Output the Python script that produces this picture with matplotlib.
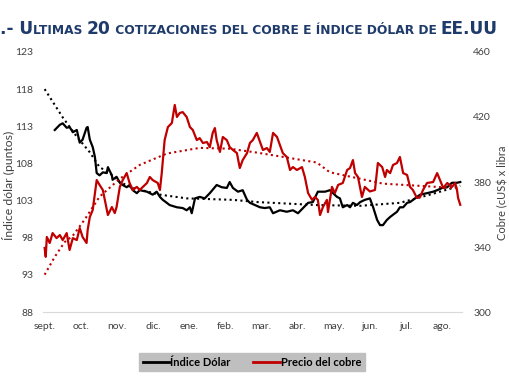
import matplotlib
matplotlib.use("Agg")
import matplotlib.pyplot as plt
from matplotlib.lines import Line2D

# month position: 0 = sept., 1 = oct., ... 11 = ago.
months = ["sept.", "oct.", "nov.", "dic.", "ene.", "feb.", "mar.", "abr.",
          "may.", "jun.", "jul.", "ago."]

dolar_x = [0.28, 0.42, 0.50, 0.61, 0.69, 0.78, 0.89, 0.97, 1.05, 1.16, 1.19, 1.25,
           1.33, 1.39, 1.44, 1.52, 1.61, 1.72, 1.75, 1.86, 1.88, 1.99, 2.08, 2.16,
           2.27, 2.35, 2.44, 2.55, 2.63, 2.83, 2.99, 3.10, 3.19, 3.27, 3.38, 3.46,
           3.66, 3.82, 3.93, 4.02, 4.07, 4.16, 4.29, 4.43, 4.57, 4.76, 4.90, 5.04,
           5.12, 5.21, 5.35, 5.48, 5.60, 5.68, 5.82, 5.96, 6.09, 6.23, 6.32, 6.51,
           6.70, 6.87, 7.01, 7.15, 7.29, 7.42, 7.56, 7.76, 7.89, 7.98, 8.09, 8.17,
           8.25, 8.37, 8.45, 8.53, 8.64, 8.73, 8.86, 9.00, 9.09, 9.20, 9.28, 9.36,
           9.47, 9.56, 9.64, 9.75, 9.83, 9.92, 10.03, 10.11, 10.25, 10.39, 10.58,
           10.75, 10.86, 11.00, 11.14, 11.27, 11.41, 11.50]
dolar = [112.5, 113.2, 113.4, 112.8, 112.9, 112.2, 112.5, 110.8, 111.2, 112.8, 112.9, 111.2,
         110.2, 108.9, 106.7, 106.4, 106.8, 106.7, 107.5, 106.4, 105.8, 106.2, 105.4, 105.1,
         104.8, 105.1, 104.4, 104.0, 104.4, 104.2, 103.8, 104.2, 103.5, 103.1, 102.7, 102.4,
         102.1, 102.0, 101.7, 102.1, 101.3, 103.3, 103.5, 103.3, 104.0, 105.1, 104.8, 104.7,
         105.5, 104.7, 104.2, 104.4, 103.1, 102.7, 102.4, 102.1, 102.0, 102.1, 101.3, 101.7,
         101.5, 101.7, 101.3, 102.0, 102.7, 102.8, 104.2, 104.2, 104.4, 104.0, 103.5, 103.3,
         102.1, 102.4, 102.1, 102.7, 102.4, 102.8, 103.1, 103.3, 102.1, 100.4, 99.7, 99.7,
         100.4, 100.8, 101.1, 101.5, 102.1, 102.1, 102.7, 102.8, 103.3, 103.8, 104.0,
         104.2, 104.4, 104.7, 104.8, 105.4, 105.4, 105.5]

cobre_x = [0.00, 0.03, 0.06, 0.14, 0.22, 0.33, 0.42, 0.50, 0.61, 0.69, 0.78, 0.89,
           0.97, 1.05, 1.16, 1.19, 1.25, 1.33, 1.44, 1.52, 1.61, 1.72, 1.75, 1.86,
           1.94, 1.99, 2.08, 2.16, 2.27, 2.35, 2.44, 2.55, 2.63, 2.83, 2.91, 2.99,
           3.13, 3.19, 3.24, 3.32, 3.41, 3.52, 3.60, 3.66, 3.74, 3.82, 3.93, 4.02,
           4.10, 4.21, 4.29, 4.38, 4.49, 4.57, 4.65, 4.71, 4.76, 4.85, 4.93, 5.04,
           5.12, 5.21, 5.32, 5.40, 5.48, 5.60, 5.68, 5.76, 5.87, 5.96, 6.04, 6.15,
           6.23, 6.32, 6.43, 6.51, 6.59, 6.70, 6.79, 6.87, 6.98, 7.12, 7.20, 7.29,
           7.40, 7.48, 7.56, 7.62, 7.70, 7.81, 7.84, 7.95, 8.03, 8.12, 8.25, 8.37,
           8.45, 8.53, 8.59, 8.67, 8.78, 8.86, 9.00, 9.14, 9.22, 9.34, 9.42, 9.47,
           9.56, 9.64, 9.75, 9.83, 9.92, 10.03, 10.11, 10.19, 10.30, 10.39, 10.47,
           10.58, 10.75, 10.86, 10.94, 11.03, 11.14, 11.27, 11.36, 11.41, 11.44, 11.50]
cobre = [339.4, 334.0, 346.2, 342.5, 348.6, 345.5, 347.4, 344.3, 348.6, 338.2, 345.5, 344.3,
         351.7, 346.2, 342.5, 350.5, 358.5, 362.8, 381.2, 378.2, 375.1, 362.8, 359.7, 364.6,
         360.9, 364.6, 377.0, 381.2, 385.5, 379.4, 375.1, 377.0, 375.1, 379.4, 383.1, 381.2,
         379.4, 375.1, 385.5, 405.8, 413.8, 416.3, 427.4, 420.0, 422.5, 423.0, 420.0, 413.8,
         412.0, 405.8, 407.0, 404.0, 404.6, 401.5, 410.2, 413.2, 405.8, 398.5, 407.7, 405.8,
         401.5, 399.7, 397.8, 388.6, 393.5, 397.8, 404.0, 405.8, 410.2, 404.6, 399.7, 400.9,
         398.5, 410.2, 407.7, 402.8, 397.8, 395.4, 387.4, 389.2, 387.4, 389.2, 383.1, 373.2,
         369.0, 370.8, 369.0, 359.7, 364.6, 369.0, 361.5, 377.0, 373.2, 378.2, 379.4, 387.4,
         388.6, 393.5, 385.5, 383.1, 370.8, 377.0, 374.2, 375.1, 391.7, 389.2, 383.1, 387.4,
         385.5, 390.5, 391.7, 395.4, 385.5, 384.3, 377.0, 375.1, 370.2, 370.8, 375.1,
         379.4, 380.0, 385.5, 381.2, 376.3, 379.4, 377.0, 379.4, 375.1, 370.2, 366.0]

# trend lines
dolar_tr_x = [0, 0.5, 0.89, 1.25, 1.52, 1.80, 2.08, 2.44, 3.19, 3.93, 5.21, 5.90,
              7.53, 8.73, 9.83, 10.66, 11.5]
dolar_tr = [118, 114.2, 111.6, 109.5, 107.5, 106.7, 105.5, 104.7, 103.8, 103.3, 103.1,
            102.8, 102.4, 102.3, 102.7, 103.8, 105.0]
cobre_tr_x = [0, 0.28, 0.55, 0.78, 1.11, 1.52, 2.08, 2.63, 3.38, 4.29, 5.12, 5.90,
              7.53, 7.89, 9.36, 10.86, 11.5]
cobre_tr = [323, 334, 343, 347, 357, 371, 382, 390.5, 397.5, 401, 400.5, 398,
            392, 386, 379, 377, 376]

RED = "#C00000"
GREY = "#404040"

fig = plt.figure(figsize=(5.1, 3.82), dpi=100)
ax = fig.add_axes([0.084, 0.183, 0.822, 0.681])
ax2 = ax.twinx()

ax.plot(dolar_x, dolar, color="black", lw=1.6, zorder=3)
ax.plot(dolar_tr_x, dolar_tr, color="black", lw=1.5, ls=(0, (1, 1.6)), zorder=2)
ax2.plot(cobre_x, cobre, color=RED, lw=1.6, zorder=3)
ax2.plot(cobre_tr_x, cobre_tr, color=RED, lw=1.5, ls=(0, (1, 1.6)), zorder=2)

ax.set_xlim(-0.05, 11.55)
ax.set_ylim(88, 123)
ax.set_yticks(range(88, 124, 5))
ax2.set_ylim(300, 460)
ax2.set_yticks(range(300, 461, 40))
ax.set_xticks(range(len(months)))
ax.set_xticklabels(months)

for a in (ax, ax2):
    for s in a.spines.values():
        s.set_visible(False)
    a.tick_params(length=0, labelsize=7.5, labelcolor=GREY)
    for lab in a.get_xticklabels() + a.get_yticklabels():
        lab.set_family("Lato")
ax.spines["bottom"].set_visible(True)
ax.spines["bottom"].set_color("#D9D9D9")
ax.tick_params(axis="y", pad=7)
ax2.tick_params(axis="y", pad=8)
ax.tick_params(axis="x", pad=7)

fig.text(0.016, 1 - 185 / 382, "Índice dólar (puntos)", rotation=90, ha="center",
         va="center", fontsize=8.8, color=GREY, family="Lato")
fig.text(0.985, 1 - 240 / 382, "Cobre (cUS$ x libra", rotation=90, ha="center",
         va="bottom", fontsize=8, color=GREY, family="Lato")

# title in small caps, built piece by piece and scaled to the reference width
TITLE_C = "#1F3B6B"
pieces = [(".- U", 10.5), ("LTIMAS ", 7.6), ("20", 10.5),
          (" COTIZACIONES DEL COBRE E ÍNDICE DÓLAR DE ", 7.6), ("EE.UU", 10.5)]
renderer = fig.canvas.get_renderer()


def draw_title(scale):
    xpos = 0.0
    texts = []
    for txt, size in pieces:
        t = fig.text(xpos, 1 - 34 / 382, txt, fontsize=size * scale, weight="bold",
                     color=TITLE_C, ha="left", va="baseline", family="DejaVu Sans")
        bb = t.get_window_extent(renderer)
        xpos += bb.width / fig.bbox.width
        texts.append(t)
    return texts, xpos * fig.bbox.width


texts, width = draw_title(1.0)
for t in texts:
    t.remove()
draw_title(497 / width)

handles = [Line2D([], [], color="black", lw=2), Line2D([], [], color=RED, lw=2)]
leg = fig.legend(handles, ["Índice Dólar", "Precio del cobre"], loc="center",
                 bbox_to_anchor=(0.494, 1 - 362 / 382), ncol=2, frameon=True,
                 fancybox=False, handlelength=2.4, handletextpad=0.1, columnspacing=2.0,
                 prop={"family": "Lato", "weight": "bold", "size": 8},
                 borderpad=0.35)
leg.get_frame().set_facecolor("#BFBFBF")
leg.get_frame().set_edgecolor("#BFBFBF")
leg.get_frame().set_alpha(1)

fig.savefig("out.png", dpi=100)
